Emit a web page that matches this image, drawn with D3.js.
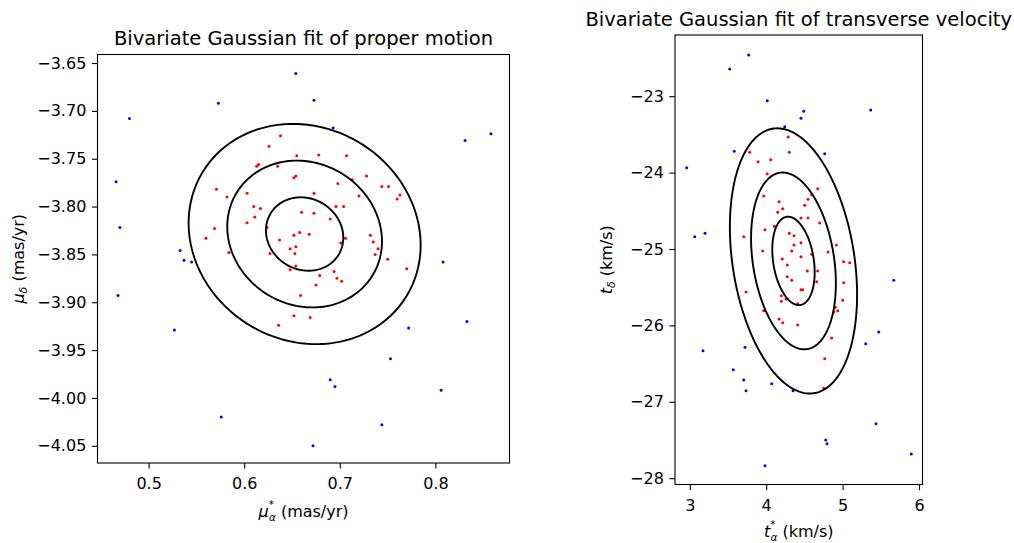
<!DOCTYPE html>
<html>
<head>
<meta charset="utf-8">
<script src="https://cdn.jsdelivr.net/npm/d3@7"></script>
<style>
  html, body { margin: 0; padding: 0; background: #fff; }
  svg text { font-family: "DejaVu Sans", sans-serif; fill: #000; }
</style>
</head>
<body>
<div id="chart"></div>
<script>
// Proper motion panel (mas/yr): members (red) and field stars (blue)
const pmMemberX = [0.638,0.626,0.655,0.678,0.707,0.615,0.613,0.635,0.654,0.652,0.728,0.713,0.698,0.744,0.751,0.571,0.603,0.673,0.763,0.720,0.582,0.760,0.610,0.617,0.696,0.704,0.660,0.673,0.611,0.690,0.603,0.569,0.624,0.658,0.668,0.652,0.560,0.706,0.732,0.637,0.701,0.735,0.654,0.648,0.740,0.584,0.627,0.653,0.737,0.750,0.654,0.648,0.770,0.694,0.679,0.697,0.702,0.675,0.659,0.652,0.669,0.636];
const pmMemberY = [-3.726,-3.737,-3.747,-3.746,-3.747,-3.756,-3.758,-3.758,-3.768,-3.770,-3.768,-3.772,-3.776,-3.779,-3.779,-3.782,-3.786,-3.786,-3.788,-3.789,-3.790,-3.792,-3.800,-3.802,-3.800,-3.800,-3.806,-3.807,-3.811,-3.813,-3.817,-3.823,-3.822,-3.827,-3.829,-3.830,-3.833,-3.833,-3.830,-3.835,-3.838,-3.837,-3.842,-3.844,-3.844,-3.848,-3.849,-3.849,-3.850,-3.855,-3.862,-3.866,-3.865,-3.868,-3.872,-3.875,-3.878,-3.882,-3.893,-3.914,-3.916,-3.924];
const pmFieldX = [0.654,0.573,0.480,0.466,0.470,0.533,0.537,0.545,0.468,0.527,0.576,0.673,0.693,0.831,0.858,0.808,0.833,0.772,0.753,0.690,0.695,0.806,0.744,0.672];
const pmFieldY = [-3.661,-3.692,-3.708,-3.774,-3.822,-3.846,-3.856,-3.858,-3.893,-3.929,-4.020,-3.689,-3.718,-3.731,-3.724,-3.858,-3.920,-3.927,-3.959,-3.981,-3.988,-3.992,-4.028,-4.050];

// Transverse velocity panel (km/s)
const tvMemberX = [4.289,4.302,3.784,3.893,4.059,4.014,4.674,4.596,4.547,3.967,4.168,4.504,4.216,4.151,4.455,4.547,4.700,4.106,3.984,3.706,4.302,4.364,4.455,4.364,4.918,3.954,4.334,4.809,4.455,4.596,4.211,4.276,5.014,5.093,4.538,4.674,4.276,4.334,4.661,5.014,3.736,4.455,4.478,4.198,4.198,4.259,5.001,4.412,4.904,4.936,4.887,3.967,4.168,4.216,4.412,4.857,4.766,4.753];
const tvMemberY = [-23.534,-23.734,-23.734,-23.857,-23.831,-24.014,-24.211,-24.289,-24.349,-24.306,-24.381,-24.428,-24.473,-24.520,-24.594,-24.594,-24.660,-24.703,-24.747,-24.839,-24.795,-24.826,-24.918,-24.948,-24.948,-25.026,-25.026,-25.039,-25.101,-25.069,-25.131,-25.209,-25.166,-25.179,-25.288,-25.288,-25.363,-25.410,-25.428,-25.441,-25.563,-25.533,-25.533,-25.611,-25.685,-25.654,-25.671,-25.716,-25.763,-25.808,-25.825,-25.808,-25.916,-25.965,-25.995,-26.165,-26.436,-26.823];
const tvFieldX = [3.771,3.522,4.014,4.491,4.455,5.368,4.242,3.582,4.766,2.959,3.064,3.199,5.669,5.473,5.302,3.173,3.723,3.569,3.706,3.736,4.072,4.351,5.437,4.779,4.796,5.899,3.984];
const tvFieldY = [-22.461,-22.644,-23.059,-23.198,-23.289,-23.181,-23.399,-23.721,-23.753,-23.936,-24.839,-24.795,-25.410,-26.086,-26.240,-26.331,-26.287,-26.580,-26.715,-26.855,-26.763,-26.855,-27.287,-27.500,-27.548,-27.683,-27.836];

// Fitted bivariate Gaussians: mean, standard deviations, correlation
const pmMean = [0.6632, -3.8287];
const pmSigma = [0.04045, 0.03835];
const pmRho = -0.10;
const tvMean = [4.357, -25.156];
const tvSigma = [0.2775, 0.5785];
const tvRho = -0.255;
const sigmaLevels = [1, 2, 3];

// Ticks
const pmXTicks = [0.5, 0.6, 0.7, 0.8];
const pmYTicks = [-3.65, -3.70, -3.75, -3.80, -3.85, -3.90, -3.95, -4.00, -4.05];
const tvXTicks = [3, 4, 5, 6];
const tvYTicks = [-23, -24, -25, -26, -27, -28];

const width = 1014;
const height = 543;
const TICK_FS = 16;
const minus = s => s.replace('-', '\u2212');

const svg = d3.select('#chart').append('svg')
  .attr('width', width)
  .attr('height', height);

function drawPanel(p) {
  const x = d3.scaleLinear().domain(p.xDomain).range([p.left, p.right]);
  const y = d3.scaleLinear().domain(p.yDomain).range([p.bottom, p.top]);
  const g = svg.append('g');

  // scatter: field stars then members
  const field = d3.zip(p.fieldX, p.fieldY);
  const members = d3.zip(p.memberX, p.memberY);
  g.append('g').selectAll('circle').data(field).join('circle')
    .attr('cx', d => x(d[0])).attr('cy', d => y(d[1]))
    .attr('r', 1.5).attr('fill', '#0000ff');
  g.append('g').selectAll('circle').data(members).join('circle')
    .attr('cx', d => x(d[0])).attr('cy', d => y(d[1]))
    .attr('r', 1.5).attr('fill', '#ff0000');

  // n-sigma ellipses of the fitted Gaussian
  const angles = d3.range(0, 2 * Math.PI, Math.PI / 120);
  const s = Math.sqrt(1 - p.rho * p.rho);
  const line = d3.line().curve(d3.curveLinearClosed);
  sigmaLevels.forEach(k => {
    const pts = angles.map(t => [
      x(p.mean[0] + k * p.sigma[0] * Math.cos(t)),
      y(p.mean[1] + k * p.sigma[1] * (p.rho * Math.cos(t) + s * Math.sin(t)))
    ]);
    g.append('path')
      .attr('d', line(pts))
      .attr('fill', 'none')
      .attr('stroke', '#000')
      .attr('stroke-width', 1.9);
  });

  // axes
  const xAxis = g.append('g')
    .attr('transform', `translate(0,${p.bottom})`)
    .call(d3.axisBottom(x).tickValues(p.xTicks).tickSize(5.6).tickPadding(9.5)
      .tickFormat(d => minus(p.xFmt(d))));
  const yAxis = g.append('g')
    .attr('transform', `translate(${p.left},0)`)
    .call(d3.axisLeft(y).tickValues(p.yTicks).tickSize(5.6).tickPadding(5.6)
      .tickFormat(d => minus(p.yFmt(d))));
  [xAxis, yAxis].forEach(a => {
    a.select('.domain').remove();
    a.selectAll('line').attr('stroke', '#000').attr('stroke-width', 1.1);
    a.selectAll('text').attr('font-size', TICK_FS).attr('font-family', '"DejaVu Sans", sans-serif');
  });

  // frame
  g.append('rect')
    .attr('x', p.left).attr('y', p.top)
    .attr('width', p.right - p.left).attr('height', p.bottom - p.top)
    .attr('fill', 'none').attr('stroke', '#000').attr('stroke-width', 1.1);

  // title
  svg.append('text')
    .attr('x', (p.left + p.right) / 2)
    .attr('y', p.top - 9.5)
    .attr('text-anchor', 'middle')
    .attr('font-size', 19.5)
    .text(p.title);

  // x label: symbol with stacked superscript * and subscript alpha, then unit
  const xl = svg.append('text')
    .attr('x', (p.left + p.right) / 2)
    .attr('y', p.xLabelY)
    .attr('text-anchor', 'middle')
    .attr('font-size', 16);
  xl.append('tspan').attr('font-style', 'italic').text(p.sym);
  xl.append('tspan').attr('font-size', 10.5).attr('dy', -9).text('*');
  xl.append('tspan').attr('font-size', 10.5).attr('font-style', 'italic').attr('dx', -5).attr('dy', 13).text('\u03b1');
  xl.append('tspan').attr('dy', -4).text(' (' + p.unit + ')');

  const yl = svg.append('text')
    .attr('transform', `translate(${p.yLabelX},${(p.top + p.bottom) / 2}) rotate(-90)`)
    .attr('text-anchor', 'middle')
    .attr('font-size', 16);
  yl.append('tspan').attr('font-style', 'italic').text(p.sym);
  yl.append('tspan').attr('font-size', 11).attr('font-style', 'italic').attr('dy', 3).text('\u03b4');
  yl.append('tspan').attr('dy', -3).text(' (' + p.unit + ')');
}

drawPanel({
  memberX: pmMemberX, memberY: pmMemberY, fieldX: pmFieldX, fieldY: pmFieldY,
  mean: pmMean, sigma: pmSigma, rho: pmRho,
  xDomain: [0.44655, 0.8775], yDomain: [-4.068, -3.6411],
  left: 97.5, right: 509.5, top: 54.5, bottom: 463,
  xTicks: pmXTicks, yTicks: pmYTicks,
  xFmt: d3.format('.1f'), yFmt: d3.format('.2f'),
  title: 'Bivariate Gaussian fit of proper motion',
  sym: '\u03bc', unit: 'mas/yr',
  xLabelY: 517, yLabelX: 24
});

drawPanel({
  memberX: tvMemberX, memberY: tvMemberY, fieldX: tvFieldX, fieldY: tvFieldY,
  mean: tvMean, sigma: tvSigma, rho: tvRho,
  xDomain: [2.8063, 6.0458], yDomain: [-28.0825, -22.199],
  left: 675, right: 922.5, top: 35, bottom: 484.5,
  xTicks: tvXTicks, yTicks: tvYTicks,
  xFmt: d3.format('d'), yFmt: d3.format('d'),
  title: 'Bivariate Gaussian fit of transverse velocity',
  sym: 't', unit: 'km/s',
  xLabelY: 537, yLabelX: 612
});
</script>
</body>
</html>
